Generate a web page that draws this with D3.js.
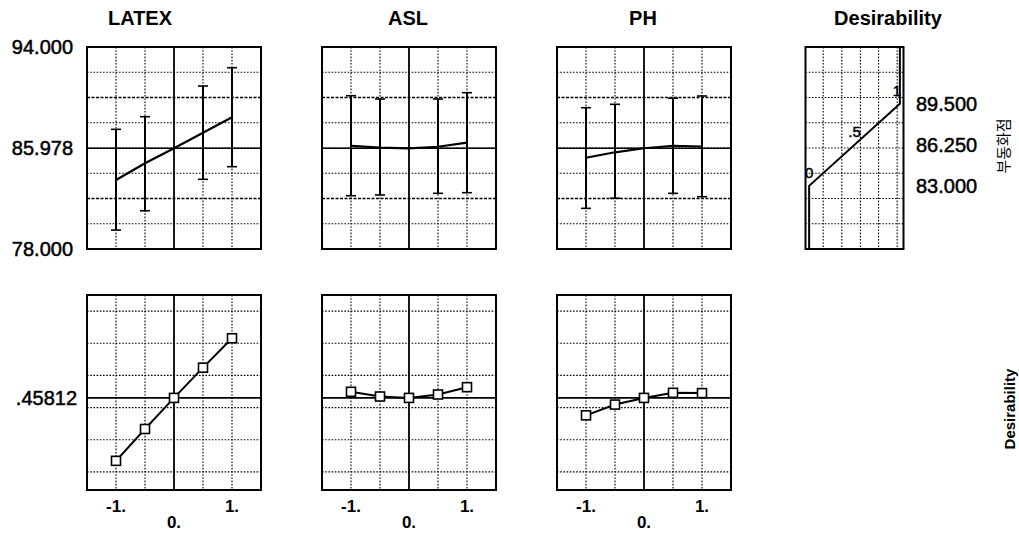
<!DOCTYPE html>
<html>
<head>
<meta charset="utf-8">
<script src="https://cdn.jsdelivr.net/npm/d3@7"></script>
<style>
    body { margin: 0; background: #fff; }
    svg { display: block; }
    text { font-family: "Liberation Sans", Arial, sans-serif; fill: #000; }
    text.num { stroke: #000; stroke-width: 0.5px; }
</style>
</head>
<body>
<div id="chart"></div>
<script>
// factor settings (coded levels) and the predicted response / desirability at each
const factors = ["LATEX", "ASL", "PH"];
const levels = [-1, -0.5, 0, 0.5, 1];

const respLATEX = [83.47, 84.79, 85.978, 87.21, 88.43];
const respASL = [86.18, 86.03, 85.978, 86.10, 86.42];
const respPH = [85.23, 85.66, 85.978, 86.18, 86.12];

const lowLATEX = [79.5, 81.03, null, 83.52, 84.52];
const highLATEX = [87.48, 88.48, null, 90.91, 92.36];
const lowASL = [82.22, 82.28, null, 82.41, 82.46];
const highASL = [90.14, 89.88, null, 89.88, 90.38];
const lowPH = [81.22, 82.02, null, 82.41, 82.14];
const highPH = [89.19, 89.46, null, 89.94, 90.12];

const desLATEX = [0.145, 0.3035, 0.45812, 0.6085, 0.755];
const desASL = [0.4885, 0.465, 0.45812, 0.475, 0.5115];
const desPH = [0.3715, 0.425, 0.45812, 0.4835, 0.482];

// axes
const respDomain = [78, 94];
const respTicks = [94, 85.978, 78];
const respTickLabels = ["94.000", "85.978", "78.000"];
const respGrid = [80, 82, 84, 86, 88, 90, 92];
const currentResp = 85.978;

const desDomain = [0, 0.97];
const desGrid = [0.09, 0.25, 0.41, 0.57, 0.73, 0.89];
const currentDes = 0.45812;
const desTickLabel = ".45812";

const xDomain = [-1.5, 1.5];
const xGrid = [-1, -0.5, 0.5, 1];
const xTicks = [-1, 1];
const xTickLabels = ["-1.", "1."];
const xCenterLabel = "0.";

// desirability function for the response (x = desirability, y = response)
const desFnD = [0, 0, 1, 1];
const desFnResp = [78, 83, 89.5, 94];
const desFnLabels = ["0", ".5", "1"];
const desFnLabelAt = [[0, 83], [0.5, 86.25], [1, 89.5]];
const desPanelDomain = [-0.04, 1.04];
const desPanelGrid = [0.155, 0.36, 0.565, 0.765, 0.97];
const desRespTicks = [89.5, 86.25, 83];
const desRespTickLabels = ["89.500", "86.250", "83.000"];

(function () {
    const series = {
        LATEX: { resp: respLATEX, low: lowLATEX, high: highLATEX, des: desLATEX },
        ASL: { resp: respASL, low: lowASL, high: highASL, des: desASL },
        PH: { resp: respPH, low: lowPH, high: highPH, des: desPH },
    };

    const width = 1019, height = 536;
    const colX = [87, 322, 557];
    const colW = 174;
    const titleX = [140, 408, 643];
    const topRow = { y: 47, h: 202 };
    const botRow = { y: 295, h: 195 };

    const svg = d3.select("#chart").append("svg")
        .attr("width", width)
        .attr("height", height);
    svg.append("rect").attr("width", width).attr("height", height).attr("fill", "#fff");

    const yResp = d3.scaleLinear().domain(respDomain).range([topRow.y + topRow.h, topRow.y]);
    const yDes = d3.scaleLinear().domain(desDomain).range([botRow.y + botRow.h, botRow.y]);

    const dotted = function (sel, heavy) {
        sel.attr("stroke", "#000")
            .attr("stroke-width", heavy ? 1.6 : 1.1)
            .attr("stroke-dasharray", heavy ? "3,1.5" : "1.6,1.6");
    };

    // one panel: grid, centre line and frame
    const drawFrame = function (g, x, y, x0, w, yr, gridY, heavyY) {
        xGrid.forEach(v => {
            g.append("line")
                .attr("x1", x(v)).attr("x2", x(v))
                .attr("y1", yr[1]).attr("y2", yr[0])
                .call(dotted, false);
        });
        gridY.forEach(v => {
            g.append("line")
                .attr("x1", x0).attr("x2", x0 + w)
                .attr("y1", y(v)).attr("y2", y(v))
                .call(dotted, heavyY.includes(v));
        });
        g.append("line")
            .attr("x1", x(0)).attr("x2", x(0))
            .attr("y1", yr[1]).attr("y2", yr[0])
            .attr("stroke", "#000").attr("stroke-width", 1.8);
    };

    factors.forEach((f, i) => {
        const s = series[f];
        const x = d3.scaleLinear().domain(xDomain).range([colX[i], colX[i] + colW]);

        svg.append("text")
            .attr("x", titleX[i]).attr("y", 25)
            .attr("text-anchor", "middle")
            .style("font-size", "20px").style("font-weight", "bold")
            .text(f);

        // ---- response row
        const gt = svg.append("g");
        drawFrame(gt, x, yResp, colX[i], colW, yResp.range(), respGrid, [82, 90]);
        gt.append("line")
            .attr("x1", colX[i]).attr("x2", colX[i] + colW)
            .attr("y1", yResp(currentResp)).attr("y2", yResp(currentResp))
            .attr("stroke", "#000").attr("stroke-width", 1.6);

        // interval bars
        levels.forEach((lv, k) => {
            if (s.low[k] === null) return;
            gt.append("line")
                .attr("x1", x(lv)).attr("x2", x(lv))
                .attr("y1", yResp(s.low[k])).attr("y2", yResp(s.high[k]))
                .attr("stroke", "#000").attr("stroke-width", 2);
            [s.low[k], s.high[k]].forEach(v => {
                gt.append("line")
                    .attr("x1", x(lv) - 5).attr("x2", x(lv) + 5)
                    .attr("y1", yResp(v)).attr("y2", yResp(v))
                    .attr("stroke", "#000").attr("stroke-width", 1.6);
            });
        });
        gt.append("path")
            .datum(levels.map((lv, k) => [lv, s.resp[k]]))
            .attr("fill", "none").attr("stroke", "#000").attr("stroke-width", 2.2)
            .attr("d", d3.line().x(d => x(d[0])).y(d => yResp(d[1])));
        gt.append("rect")
            .attr("x", colX[i]).attr("y", topRow.y)
            .attr("width", colW).attr("height", topRow.h)
            .attr("fill", "none").attr("stroke", "#000").attr("stroke-width", 2);

        // ---- desirability row
        const gb = svg.append("g");
        drawFrame(gb, x, yDes, colX[i], colW, yDes.range(), desGrid, []);
        gb.append("line")
            .attr("x1", colX[i]).attr("x2", colX[i] + colW)
            .attr("y1", yDes(currentDes)).attr("y2", yDes(currentDes))
            .attr("stroke", "#000").attr("stroke-width", 1.6);
        gb.append("path")
            .datum(levels.map((lv, k) => [lv, s.des[k]]))
            .attr("fill", "none").attr("stroke", "#000").attr("stroke-width", 2)
            .attr("d", d3.line().x(d => x(d[0])).y(d => yDes(d[1])));
        gb.selectAll("rect.pt")
            .data(levels.map((lv, k) => [lv, s.des[k]]))
            .join("rect")
            .attr("class", "pt")
            .attr("x", d => x(d[0]) - 4.5).attr("y", d => yDes(d[1]) - 4.5)
            .attr("width", 9).attr("height", 9)
            .attr("fill", "#fff").attr("stroke", "#000").attr("stroke-width", 1.6);
        gb.append("rect")
            .attr("x", colX[i]).attr("y", botRow.y)
            .attr("width", colW).attr("height", botRow.h)
            .attr("fill", "none").attr("stroke", "#000").attr("stroke-width", 2);

        // x tick labels
        xTicks.forEach((t, k) => {
            svg.append("text")
                .attr("x", x(t)).attr("y", 512)
                .attr("text-anchor", "middle")
                .style("font-size", "17px").style("font-weight", "bold")
                .text(xTickLabels[k]);
        });
        svg.append("text")
            .attr("x", x(0)).attr("y", 528)
            .attr("text-anchor", "middle")
            .style("font-size", "17px").style("font-weight", "bold")
            .text(xCenterLabel);
    });

    // left axis labels
    respTicks.forEach((t, k) => {
        svg.append("text")
            .attr("class", "num")
            .attr("x", 73).attr("y", yResp(t))
            .attr("dy", "0.35em")
            .attr("text-anchor", "end")
            .style("font-size", "20px")
            .text(respTickLabels[k]);
    });
    svg.append("text")
        .attr("class", "num")
        .attr("x", 77).attr("y", yDes(currentDes))
        .attr("dy", "0.35em")
        .attr("text-anchor", "end")
        .style("font-size", "20px")
        .text(desTickLabel);

    // desirability function panel
    const dp = { x: 805.5, w: 98 };
    const xD = d3.scaleLinear().domain(desPanelDomain).range([dp.x, dp.x + dp.w]);
    const gd = svg.append("g");
    svg.append("text")
        .attr("x", 888).attr("y", 25)
        .attr("text-anchor", "middle")
        .style("font-size", "20px").style("font-weight", "bold")
        .text("Desirability");
    desPanelGrid.forEach(v => {
        gd.append("line")
            .attr("x1", xD(v)).attr("x2", xD(v))
            .attr("y1", topRow.y).attr("y2", topRow.y + topRow.h)
            .call(dotted, false);
    });
    respGrid.forEach(v => {
        gd.append("line")
            .attr("x1", dp.x).attr("x2", dp.x + dp.w)
            .attr("y1", yResp(v)).attr("y2", yResp(v))
            .call(dotted, false);
    });
    gd.append("path")
        .datum(desFnD.map((d, k) => [d, desFnResp[k]]))
        .attr("fill", "none").attr("stroke", "#000").attr("stroke-width", 2)
        .attr("d", d3.line().x(d => xD(d[0])).y(d => yResp(d[1])));
    desFnLabels.forEach((lab, k) => {
        gd.append("text")
            .attr("class", "num")
            .attr("x", xD(desFnLabelAt[k][0]) - (k === 2 ? 3 : 0))
            .attr("y", yResp(desFnLabelAt[k][1]) - 8)
            .attr("text-anchor", "middle")
            .style("font-size", "15px")
            .text(lab);
    });
    gd.append("rect")
        .attr("x", dp.x).attr("y", topRow.y)
        .attr("width", dp.w).attr("height", topRow.h)
        .attr("fill", "none").attr("stroke", "#000").attr("stroke-width", 2);

    desRespTicks.forEach((t, k) => {
        svg.append("text")
            .attr("class", "num")
            .attr("x", 916).attr("y", yResp(t))
            .attr("dy", "0.35em")
            .style("font-size", "20px")
            .text(desRespTickLabels[k]);
    });

    // rotated axis titles on the right
    svg.append("text")
        .attr("transform", "translate(1009,146) rotate(-90)")
        .attr("text-anchor", "middle")
        .style("font-family", "'Noto Sans CJK KR', sans-serif")
        .style("font-size", "15px")
        .text("부동화점");
    svg.append("text")
        .attr("transform", "translate(1015,409) rotate(-90)")
        .attr("text-anchor", "middle")
        .style("font-size", "15px").style("font-weight", "bold")
        .text("Desirability");
})();
</script>
</body>
</html>
